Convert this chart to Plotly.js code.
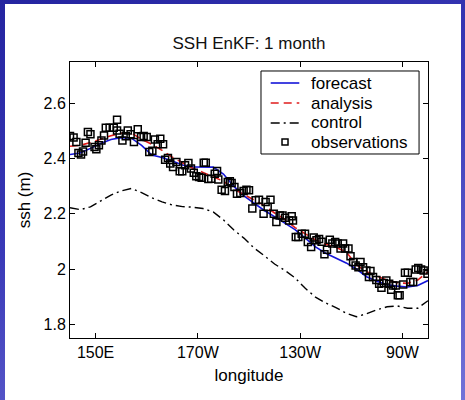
<!DOCTYPE html>
<html>
<head>
<meta charset="utf-8">
<script src="https://cdn.plot.ly/plotly-3.0.1.min.js"></script>
<style>
  html, body { margin:0; padding:0; }
  body { width:465px; height:400px; overflow:hidden; position:relative;
         background: linear-gradient(160deg, #2424a0 0%, #3a3ab8 45%, #7272d8 100%); }
  #sheet { position:absolute; left:5px; top:4px; width:456px; height:396px; background:#ffffff; }
  #chart { position:absolute; left:0; top:0; width:465px; height:400px; }
</style>
</head>
<body>
<div id="sheet"></div>
<div id="chart"></div>
<script>
// Longitude grid for the model curves (degrees east; 180+ = west)
const lonGrid = [140,144,148,152,156,160,164,168,172,176,180,184,188,192,196,200,204,208,212,216,220,224,228,232,236,240,244,248,252,256,260,264,268,272,276,280];

const forecast = [2.415,2.420,2.437,2.455,2.469,2.476,2.474,2.448,2.413,2.404,2.391,2.377,2.370,2.370,2.369,2.344,2.300,2.265,2.237,2.212,2.190,2.168,2.143,2.112,2.080,2.057,2.040,2.022,2.000,1.972,1.956,1.943,1.938,1.935,1.940,1.958,1.985];
const analysis = [2.445,2.448,2.458,2.470,2.483,2.492,2.493,2.470,2.452,2.430,2.405,2.385,2.365,2.350,2.335,2.318,2.290,2.270,2.252,2.230,2.203,2.180,2.150,2.128,2.105,2.090,2.078,2.062,2.015,1.990,1.975,1.960,1.950,1.948,1.960,1.990];
const control = [2.222,2.215,2.225,2.248,2.268,2.283,2.292,2.277,2.258,2.243,2.232,2.226,2.224,2.219,2.207,2.178,2.142,2.112,2.076,2.048,2.018,1.995,1.968,1.930,1.898,1.877,1.860,1.840,1.827,1.838,1.852,1.863,1.866,1.858,1.858,1.885];

// Observations
const obsLon = [140.0,141.4,142.5,143.3,144.3,145.1,146.1,147.0,148.0,149.6,150.3,151.3,152.3,153.3,154.0,155.5,157.1,158.4,158.4,159.4,160.5,161.8,162.6,163.7,165.0,166.5,167.8,168.8,170.0,171.0,172.2,173.2,174.3,175.3,176.4,177.2,178.3,179.2,180.3,181.6,182.9,183.9,185.0,186.3,187.3,188.4,189.4,190.5,191.5,192.3,193.1,194.1,195.2,196.6,197.5,198.0,199.3,200.6,201.7,202.5,203.2,204.3,205.3,206.6,207.9,209.0,210.0,211.3,212.6,213.9,215.7,216.5,217.3,218.4,219.7,220.7,222.0,223.1,224.1,225.7,226.7,227.2,228.3,229.3,230.6,231.9,233.0,234.3,235.3,236.4,237.4,238.4,239.5,240.5,241.6,242.6,243.7,244.7,245.8,246.8,247.6,248.9,249.7,250.7,251.7,252.8,253.6,254.6,255.9,256.9,257.5,258.5,259.8,260.9,261.8,262.7,263.7,264.8,265.6,266.3,267.4,268.2,268.9,270.3,271.0,272.1,273.1,274.2,275.2,276.2,277.3,278.3,279.8];
const obsSsh = [2.482,2.476,2.460,2.420,2.415,2.426,2.457,2.496,2.488,2.442,2.434,2.448,2.466,2.484,2.512,2.512,2.512,2.541,2.502,2.490,2.466,2.481,2.502,2.488,2.460,2.506,2.478,2.482,2.478,2.424,2.428,2.469,2.452,2.472,2.452,2.396,2.402,2.382,2.370,2.388,2.354,2.354,2.376,2.384,2.364,2.349,2.336,2.333,2.331,2.385,2.385,2.326,2.327,2.345,2.355,2.324,2.287,2.283,2.315,2.318,2.312,2.297,2.273,2.275,2.283,2.287,2.285,2.219,2.249,2.251,2.200,2.243,2.225,2.251,2.200,2.170,2.194,2.194,2.186,2.176,2.191,2.176,2.116,2.116,2.128,2.128,2.098,2.080,2.114,2.104,2.109,2.099,2.053,2.070,2.106,2.092,2.098,2.092,2.074,2.092,2.074,2.074,2.046,2.025,2.013,2.006,2.025,2.006,1.995,1.971,1.993,1.971,1.960,1.947,1.932,1.949,1.958,1.947,1.925,1.940,1.940,1.905,1.905,1.944,1.986,1.986,1.953,1.953,1.998,2.004,1.998,1.995,1.983];

// Axis ticks
const xTickVals = [150,190,230,270];
const xTickText = ['150E','170W','130W','90W'];
const yTickVals = [1.8,2.0,2.2,2.4,2.6];
const yTickText = ['1.8','2','2.2','2.4','2.6'];

// Legend labels
const legendNames = ['forecast','analysis','control','observations'];

const FONT = 'Liberation Sans, Arial, Helvetica, sans-serif';
const BLUE = '#1515d8', RED = '#e01c1c', BLACK = '#000000';
const DASH_A = '8px,5px', DASH_C = '9px,4px,2px,4px';

const traces = [
  { x: lonGrid, y: forecast, name: legendNames[0], type: 'scatter', mode: 'lines',
    line: { color: BLUE, width: 1.6 } },
  { x: lonGrid, y: analysis, name: legendNames[1], type: 'scatter', mode: 'lines',
    line: { color: RED, width: 1.6, dash: DASH_A } },
  { x: lonGrid, y: control, name: legendNames[2], type: 'scatter', mode: 'lines',
    line: { color: BLACK, width: 1.4, dash: DASH_C } },
  { x: obsLon, y: obsSsh, name: legendNames[3], type: 'scatter', mode: 'markers',
    marker: { symbol: 'square-open', size: 7, color: BLACK, line: { width: 1.5, color: BLACK } } }
];

// Custom legend box (paper coordinates) to match the compact MATLAB legend
const lgX0 = 0.5335, lgX1 = 0.975, lgY0 = 0.6667, lgY1 = 0.9674;
const rowY = [0.9239, 0.8514, 0.7790, 0.7101];
const sampX0 = 0.5606, sampX1 = 0.6405, sampXc = 0.6006, textX = 0.6676;

const shapes = [
  { type: 'rect', xref: 'paper', yref: 'paper', x0: lgX0, x1: lgX1, y0: lgY0, y1: lgY1,
    fillcolor: '#ffffff', line: { color: BLACK, width: 1 }, layer: 'above' },
  { type: 'line', xref: 'paper', yref: 'paper', x0: sampX0, x1: sampX1, y0: rowY[0], y1: rowY[0],
    line: { color: BLUE, width: 1.6 }, layer: 'above' },
  { type: 'line', xref: 'paper', yref: 'paper', x0: sampX0, x1: sampX1, y0: rowY[1], y1: rowY[1],
    line: { color: RED, width: 1.6, dash: DASH_A }, layer: 'above' },
  { type: 'line', xref: 'paper', yref: 'paper', x0: sampX0, x1: sampX1, y0: rowY[2], y1: rowY[2],
    line: { color: BLACK, width: 1.4, dash: DASH_C }, layer: 'above' },
  { type: 'rect', xref: 'paper', yref: 'paper', xsizemode: 'pixel', ysizemode: 'pixel',
    xanchor: sampXc, yanchor: rowY[3], x0: -3, x1: 3, y0: -3, y1: 3,
    fillcolor: 'rgba(0,0,0,0)', line: { color: BLACK, width: 1.5 }, layer: 'above' }
];

const annotations = legendNames.map((t, i) => ({
  text: t, xref: 'paper', yref: 'paper', x: textX, y: rowY[i],
  xanchor: 'left', yanchor: 'middle', showarrow: false,
  font: { family: FONT, size: 17, color: BLACK }
}));

const layout = {
  width: 465, height: 400,
  paper_bgcolor: 'rgba(0,0,0,0)',
  plot_bgcolor: '#ffffff',
  margin: { l: 70, r: 37, t: 62, b: 62, pad: 0 },
  font: { family: FONT, size: 16, color: BLACK },
  title: { text: 'SSH EnKF: 1 month', font: { family: FONT, size: 17, color: '#111' },
           x: 0.5, xref: 'paper', xanchor: 'center', y: 1 - 43/400, yref: 'container', yanchor: 'middle' },
  xaxis: {
    range: [140, 280], tickvals: xTickVals, ticktext: xTickText,
    ticks: 'inside', ticklen: 5, tickwidth: 1, tickcolor: BLACK,
    showline: true, linecolor: BLACK, linewidth: 1, mirror: 'ticks',
    showgrid: false, zeroline: false,
    tickfont: { family: FONT, size: 16 },
    title: { text: 'longitude', font: { family: FONT, size: 17 }, standoff: 8 }
  },
  yaxis: {
    range: [1.75, 2.75], tickvals: yTickVals, ticktext: yTickText,
    ticks: 'inside', ticklen: 5, tickwidth: 1, tickcolor: BLACK,
    showline: true, linecolor: BLACK, linewidth: 1, mirror: 'ticks',
    showgrid: false, zeroline: false,
    tickfont: { family: FONT, size: 16 },
    title: { text: 'ssh (m)', font: { family: FONT, size: 17 }, standoff: 8 }
  },
  showlegend: false,
  shapes: shapes,
  annotations: annotations
};

Plotly.newPlot('chart', traces, layout, { displayModeBar: false, staticPlot: true });
</script>
</body>
</html>
